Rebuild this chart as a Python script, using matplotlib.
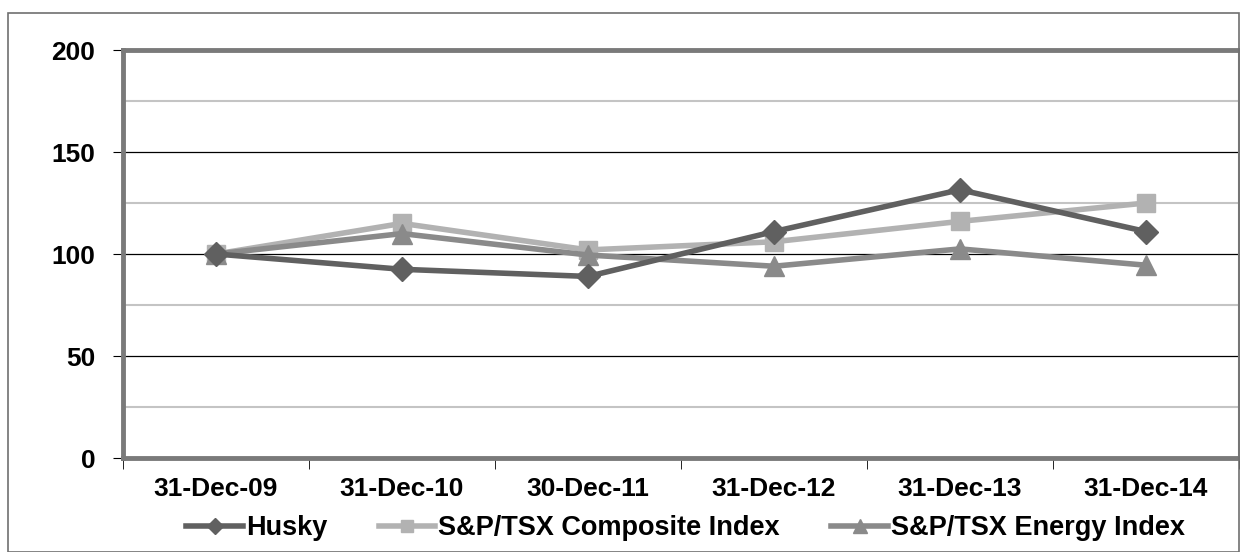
import matplotlib
matplotlib.use('Agg')
import matplotlib.pyplot as plt
from matplotlib.patches import Rectangle
import numpy as np

dates = ['31-Dec-09', '31-Dec-10', '30-Dec-11', '31-Dec-12', '31-Dec-13', '31-Dec-14']
husky = [100, 92.5, 89, 111, 131.5, 111]
composite = [100, 115, 102, 106, 116, 125]
energy = [100, 110, 99.5, 94, 102.5, 94.5]

plt.rcParams['font.family'] = ['Liberation Sans', 'DejaVu Sans']
plt.rcParams['font.weight'] = 'bold'

fig = plt.figure(figsize=(12.4, 5.52), dpi=100)
# outer chart border
fig.patches.append(Rectangle((8 / 1240, 0), 1231 / 1240, 1 - 13 / 552, transform=fig.transFigure,
                             fill=False, edgecolor='#707070', linewidth=1.2))

ax = fig.add_axes([123 / 1240, 1 - 458 / 552, 1116 / 1240, 408 / 552])
x = np.arange(len(dates))

# gridlines
for v in [25, 75, 125, 175]:
    ax.axhline(v, color='#c4c4c4', lw=1.5, zorder=1)
for v in [50, 100, 150]:
    ax.axhline(v, color='black', lw=0.9, zorder=1)

ax.plot(x, husky, color='#606060', lw=4, marker='D', ms=12, label='Husky', zorder=5)
ax.plot(x, composite, color='#b2b2b2', lw=4, marker='s', ms=13, label='S&P/TSX Composite Index', zorder=4)
ax.plot(x, energy, color='#8a8a8a', lw=4, marker='^', ms=15, label='S&P/TSX Energy Index', zorder=4)

ax.set_xlim(-0.5, 5.5)
ax.set_ylim(0, 200)
ax.set_yticks([0, 50, 100, 150, 200])
ax.set_xticks(x)
ax.set_xticklabels(dates)
ax.set_xticks(np.arange(-0.5, 6, 1), minor=True)
ax.tick_params(axis='x', which='major', length=0, pad=14, labelsize=19)
ax.tick_params(axis='x', which='minor', length=8, direction='out', color='black')
ax.tick_params(axis='y', length=7, direction='out', pad=13, labelsize=19, color='black')

for s in ['left', 'bottom', 'top']:
    ax.spines[s].set_color('#7a7a7a')
    ax.spines[s].set_linewidth(3.5)
ax.spines['right'].set_color('#909090')
ax.spines['right'].set_linewidth(1.5)

ax.legend(loc='center', bbox_to_anchor=(0.504, -0.172), ncol=3, frameon=False,
          fontsize=19.5, handlelength=2.1, handletextpad=0.1, columnspacing=1.9,
          markerscale=0.65, borderaxespad=0)

fig.savefig('out.png', dpi=100)
